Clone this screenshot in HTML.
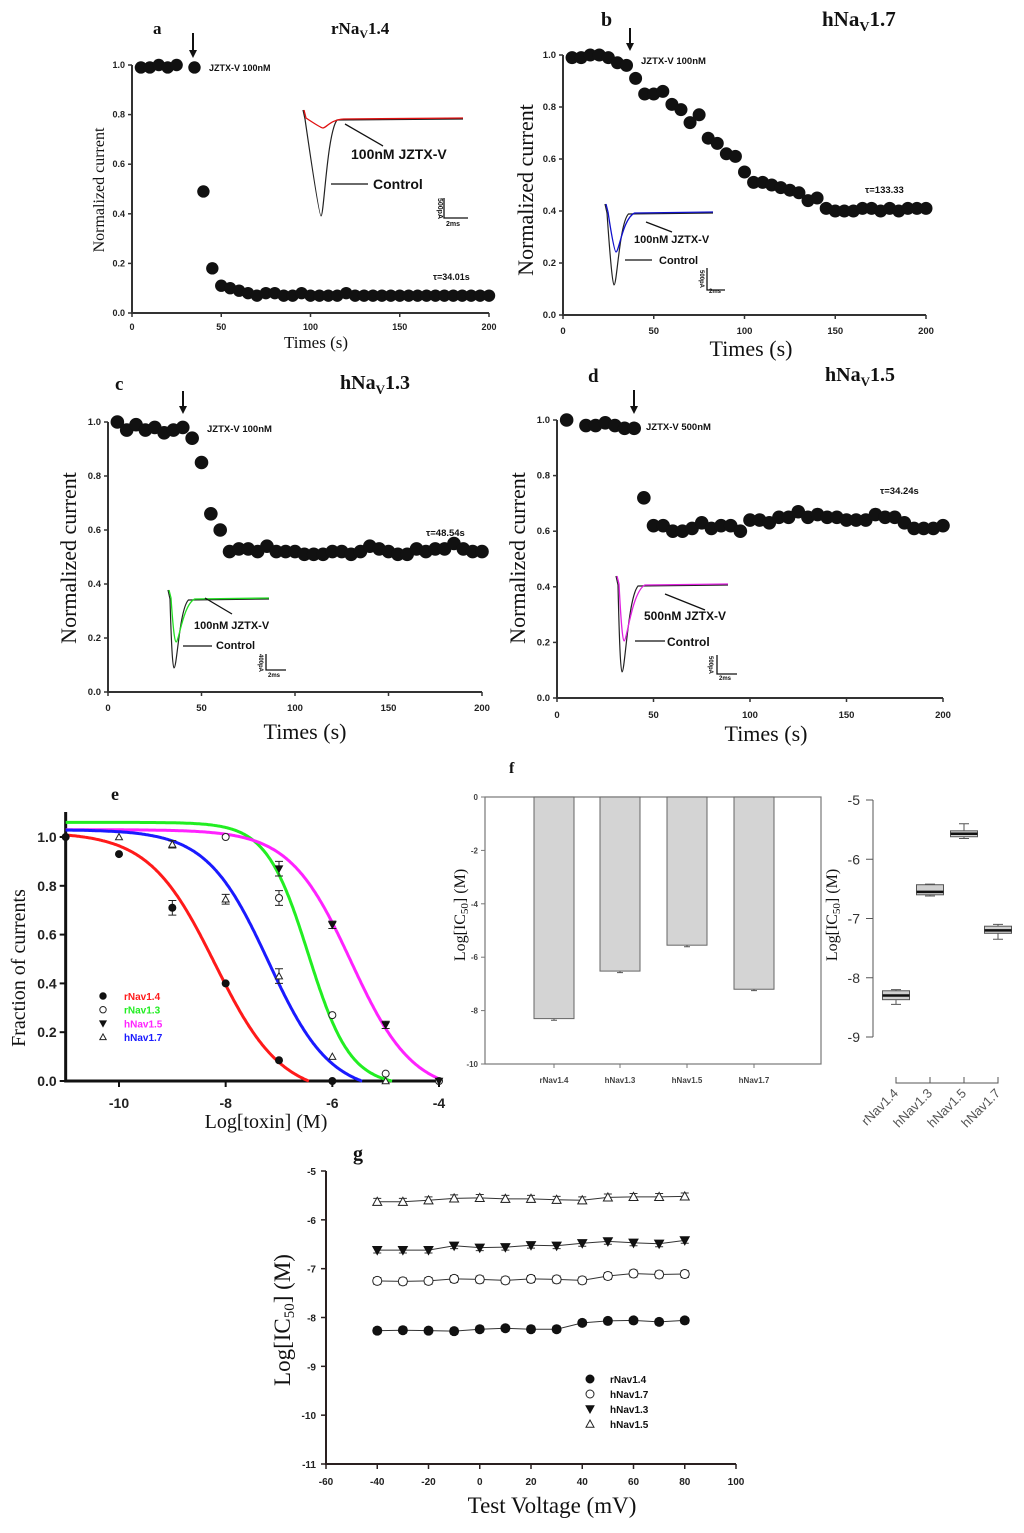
<!DOCTYPE html>
<html><head><meta charset="utf-8">
<style>
html,body{margin:0;padding:0;background:#fff;}
svg{display:block;}
.tk{font-family:"Liberation Sans",sans-serif;font-weight:bold;fill:#222;}
.sr{font-family:"Liberation Serif",serif;fill:#111;}
.sb{font-family:"Liberation Sans",sans-serif;font-weight:bold;fill:#111;}
</style></head>
<body>
<svg id="fig" width="1024" height="1533" viewBox="0 0 1024 1533" xmlns="http://www.w3.org/2000/svg">
<!-- Panel a static text -->
<text class="sr" x="153" y="34" font-size="17" font-weight="bold">a</text>
<text class="sr" x="331" y="34" font-size="17" font-weight="bold">rNa<tspan font-size="12" dy="4">V</tspan><tspan dy="-4">1.4</tspan></text>
<text class="sb" x="209" y="71" font-size="9">JZTX-V 100nM</text>
<text class="sb" x="433" y="280" font-size="9">τ=34.01s</text>
<text class="sr" x="316" y="348" font-size="17" text-anchor="middle">Times (s)</text>
<text class="sr" font-size="16" text-anchor="middle" transform="translate(104,190) rotate(-90)">Normalized current</text>
<text class="sb" x="351" y="159" font-size="14">100nM JZTX-V</text>
<text class="sb" x="373" y="189" font-size="14">Control</text>
<text class="sb" font-size="7" transform="translate(438,198) rotate(90)">500pA</text>
<text class="sb" x="446" y="226" font-size="7">2ms</text>

<!-- Panel b -->
<text class="sr" x="601" y="26" font-size="20" font-weight="bold">b</text>
<text class="sr" x="822" y="26" font-size="21" font-weight="bold">hNa<tspan font-size="14" dy="5">V</tspan><tspan dy="-5">1.7</tspan></text>
<text class="sb" x="641" y="64" font-size="9.5">JZTX-V 100nM</text>
<text class="sb" x="865" y="193" font-size="9.5">τ=133.33</text>
<text class="sr" x="751" y="356" font-size="22" text-anchor="middle">Times (s)</text>
<text class="sr" font-size="22" text-anchor="middle" transform="translate(533,190) rotate(-90)">Normalized current</text>
<text class="sb" x="634" y="243" font-size="11">100nM JZTX-V</text>
<text class="sb" x="659" y="264" font-size="11">Control</text>
<text class="sb" font-size="6" transform="translate(700,270) rotate(90)">500pA</text>
<text class="sb" x="709" y="293" font-size="6">2ms</text>

<!-- Panel c -->
<text class="sr" x="115" y="390" font-size="19" font-weight="bold">c</text>
<text class="sr" x="340" y="389" font-size="20" font-weight="bold">hNa<tspan font-size="13" dy="5">V</tspan><tspan dy="-5">1.3</tspan></text>
<text class="sb" x="207" y="432" font-size="9.5">JZTX-V 100nM</text>
<text class="sb" x="426" y="536" font-size="9.5">τ=48.54s</text>
<text class="sr" x="305" y="739" font-size="22" text-anchor="middle">Times (s)</text>
<text class="sr" font-size="22" text-anchor="middle" transform="translate(76,558) rotate(-90)">Normalized current</text>
<text class="sb" x="194" y="629" font-size="11">100nM JZTX-V</text>
<text class="sb" x="216" y="649" font-size="11">Control</text>
<text class="sb" font-size="6" transform="translate(259,654) rotate(90)">400pA</text>
<text class="sb" x="268" y="677" font-size="6">2ms</text>

<!-- Panel d -->
<text class="sr" x="588" y="382" font-size="19" font-weight="bold">d</text>
<text class="sr" x="825" y="381" font-size="20" font-weight="bold">hNa<tspan font-size="13" dy="5">V</tspan><tspan dy="-5">1.5</tspan></text>
<text class="sb" x="646" y="430" font-size="9.5">JZTX-V 500nM</text>
<text class="sb" x="880" y="494" font-size="9.5">τ=34.24s</text>
<text class="sr" x="766" y="741" font-size="22" text-anchor="middle">Times (s)</text>
<text class="sr" font-size="22" text-anchor="middle" transform="translate(525,558) rotate(-90)">Normalized current</text>
<text class="sb" x="644" y="620" font-size="12">500nM JZTX-V</text>
<text class="sb" x="667" y="646" font-size="12">Control</text>
<text class="sb" font-size="6" transform="translate(709,656) rotate(90)">500pA</text>
<text class="sb" x="719" y="680" font-size="6">2ms</text>

<!-- Panel e -->
<text class="sr" x="111" y="800" font-size="18" font-weight="bold">e</text>
<text class="sr" x="266" y="1128" font-size="20" text-anchor="middle">Log[toxin] (M)</text>
<text class="sr" font-size="20" text-anchor="middle" transform="translate(25,968) rotate(-90)">Fraction of currents</text>

<!-- Panel f -->
<text class="sr" x="509" y="773" font-size="16" font-weight="bold">f</text>
<text class="sr" font-size="16" text-anchor="middle" transform="translate(465,915) rotate(-90)">Log[IC<tspan font-size="11" dy="3">50</tspan><tspan dy="-3">] (M)</tspan></text>
<text class="sr" font-size="16" text-anchor="middle" transform="translate(837,915) rotate(-90)">Log[IC<tspan font-size="11" dy="3">50</tspan><tspan dy="-3">] (M)</tspan></text>

<!-- Panel g -->
<text class="sr" x="353" y="1160" font-size="20" font-weight="bold">g</text>
<text class="sr" x="552" y="1513" font-size="23" text-anchor="middle">Test Voltage (mV)</text>
<text class="sr" font-size="23" text-anchor="middle" transform="translate(290,1320) rotate(-90)">Log[IC<tspan font-size="15" dy="4">50</tspan><tspan dy="-4">] (M)</tspan></text>
</svg>

<script>
// ---------- DATA ----------
const timesA = [5,10,15,20,25,35,40,45,50,55,60,65,70,75,80,85,90,95,100,105,110,115,120,125,130,135,140,145,150,155,160,165,170,175,180,185,190,195,200];
const valsA  = [0.99,0.99,1.0,0.99,1.0,0.99,0.49,0.18,0.11,0.10,0.09,0.08,0.07,0.08,0.08,0.07,0.07,0.08,0.07,0.07,0.07,0.07,0.08,0.07,0.07,0.07,0.07,0.07,0.07,0.07,0.07,0.07,0.07,0.07,0.07,0.07,0.07,0.07,0.07];
const timesB = [5,10,15,20,25,30,35,40,45,50,55,60,65,70,75,80,85,90,95,100,105,110,115,120,125,130,135,140,145,150,155,160,165,170,175,180,185,190,195,200];
const valsB  = [0.99,0.99,1.0,1.0,0.99,0.97,0.96,0.91,0.85,0.85,0.86,0.81,0.79,0.74,0.77,0.68,0.66,0.62,0.61,0.55,0.51,0.51,0.50,0.49,0.48,0.47,0.44,0.45,0.41,0.40,0.40,0.40,0.41,0.41,0.40,0.41,0.40,0.41,0.41,0.41];
const timesC = [5,10,15,20,25,30,35,40,45,50,55,60,65,70,75,80,85,90,95,100,105,110,115,120,125,130,135,140,145,150,155,160,165,170,175,180,185,190,195,200];
const valsC  = [1.0,0.97,0.99,0.97,0.98,0.96,0.97,0.98,0.94,0.85,0.66,0.60,0.52,0.53,0.53,0.52,0.54,0.52,0.52,0.52,0.51,0.51,0.51,0.52,0.52,0.51,0.52,0.54,0.53,0.52,0.51,0.51,0.53,0.52,0.53,0.53,0.55,0.53,0.52,0.52];
const timesD = [5,15,20,25,30,35,40,45,50,55,60,65,70,75,80,85,90,95,100,105,110,115,120,125,130,135,140,145,150,155,160,165,170,175,180,185,190,195,200];
const valsD  = [1.0,0.98,0.98,0.99,0.98,0.97,0.97,0.72,0.62,0.62,0.60,0.60,0.61,0.63,0.61,0.62,0.62,0.60,0.64,0.64,0.63,0.65,0.65,0.67,0.65,0.66,0.65,0.65,0.64,0.64,0.64,0.66,0.65,0.65,0.63,0.61,0.61,0.61,0.62];

// panel e
const eSeries = ['rNav1.4','rNav1.3','hNav1.5','hNav1.7'];
const eColors = ['#ff1a1a','#22ee22','#ff22ff','#1a1aff'];
const eMarkers = ['fcircle','ocircle','dtri','utri'];
const eX_r14 = [-11,-10,-9,-8,-7,-6];
const eY_r14 = [1.0,0.93,0.71,0.40,0.085,0.0];
const eE_r14 = [0,0,0.03,0,0,0];
const eX_r13 = [-8,-7,-6,-5,-4];
const eY_r13 = [1.0,0.75,0.27,0.03,0.0];
const eE_r13 = [0,0.03,0,0,0];
const eX_h15 = [-7,-6,-5,-4];
const eY_h15 = [0.87,0.64,0.23,0.0];
const eE_h15 = [0.03,0.015,0.015,0];
const eX_h17 = [-10,-9,-8,-7,-6,-5];
const eY_h17 = [1.0,0.97,0.745,0.43,0.10,0.0];
const eE_h17 = [0,0.015,0.02,0.03,0,0];
// Hill fit parameters: top, bottom, logIC50, slope
const fitTop = [1.02,1.06,1.03,1.03];
const fitBottom = [-0.06,-0.02,-0.05,-0.05];
const fitIC50 = [-8.2,-6.45,-5.65,-7.2];
const fitSlope = [0.7,1.1,0.75,0.75];
const eXTicks = [-10,-8,-6,-4];
const eYTicks = [0,0.2,0.4,0.6,0.8,1.0];

// panel f
const fCats = ['rNav1.4','hNav1.3','hNav1.5','hNav1.7'];
const fBarVals = [-8.3,-6.52,-5.55,-7.2];
const fBarErr = [0.06,0.06,0.06,0.05];
const fBarTicks = [0,-2,-4,-6,-8,-10];
const boxMed = [-8.3,-6.55,-5.57,-7.2];
const boxQ1 = [-8.37,-6.6,-5.62,-7.25];
const boxQ3 = [-8.22,-6.43,-5.52,-7.13];
const boxMin = [-8.45,-6.62,-5.65,-7.35];
const boxMax = [-8.2,-6.42,-5.4,-7.1];
const boxTicks = [-5,-6,-7,-8,-9];

// panel g
const gVolt = [-40,-30,-20,-10,0,10,20,30,40,50,60,70,80];
const gNames = ['rNav1.4','hNav1.7','hNav1.3','hNav1.5'];
const gMarkers = ['fcircle','ocircle','dtri','utri'];
const g_r14 = [-8.27,-8.26,-8.27,-8.28,-8.24,-8.22,-8.24,-8.24,-8.11,-8.07,-8.06,-8.09,-8.06];
const g_h17 = [-7.25,-7.26,-7.25,-7.21,-7.22,-7.24,-7.21,-7.22,-7.24,-7.15,-7.10,-7.12,-7.11];
const g_h13 = [-6.62,-6.62,-6.62,-6.53,-6.57,-6.56,-6.52,-6.53,-6.48,-6.44,-6.47,-6.49,-6.42];
const g_h15 = [-5.63,-5.63,-5.60,-5.56,-5.55,-5.57,-5.57,-5.59,-5.60,-5.54,-5.53,-5.53,-5.52];
const gErr = [0.06,0.07,0.06,0.07];
const gXTicks = [-60,-40,-20,0,20,40,60,80,100];
const gYTicks = [-5,-6,-7,-8,-9,-10,-11];

// ---------- helpers ----------
const NS = 'http://www.w3.org/2000/svg';
const svg = document.getElementById('fig');
function mk(tag, attrs, parent){
  const el = document.createElementNS(NS, tag);
  for (const k in attrs) el.setAttribute(k, attrs[k]);
  (parent||svg).appendChild(el);
  return el;
}
function lin(d0,d1,r0,r1){ return v => r0 + (v-d0)*(r1-r0)/(d1-d0); }
function marker(type, cx, cy, r, parent){
  let el;
  if (type==='fcircle') el = mk('circle',{cx:cx,cy:cy,r:r,fill:'#111',stroke:'#111','stroke-width':1},parent);
  else if (type==='ocircle') el = mk('circle',{cx:cx,cy:cy,r:r,fill:'#fff',stroke:'#222','stroke-width':1},parent);
  else if (type==='dtri') el = mk('polygon',{points:`${cx-r},${cy-r*0.8} ${cx+r},${cy-r*0.8} ${cx},${cy+r}`,fill:'#111',stroke:'#111','stroke-width':1},parent);
  else el = mk('polygon',{points:`${cx-r},${cy+r*0.8} ${cx+r},${cy+r*0.8} ${cx},${cy-r}`,fill:'#fff',stroke:'#222','stroke-width':1},parent);
  return el;
}

// ---------- time course panels ----------
const timePanels = [
  {id:'a', x0:132, x1:489, y0:313, y1:65, t:timesA, v:valsA, r:6.2, fs:9, tickY:330, arrowX:193, arrowTop:33, arrowBot:58},
  {id:'b', x0:563, x1:926, y0:315, y1:55, t:timesB, v:valsB, r:6.5, fs:9.5, tickY:334, arrowX:630, arrowTop:28, arrowBot:51},
  {id:'c', x0:108, x1:482, y0:692, y1:422, t:timesC, v:valsC, r:6.8, fs:9.5, tickY:711, arrowX:183, arrowTop:391, arrowBot:414},
  {id:'d', x0:557, x1:943, y0:698, y1:420, t:timesD, v:valsD, r:6.8, fs:9.5, tickY:718, arrowX:634, arrowTop:390, arrowBot:414}
];
const timeXTicks = [0,50,100,150,200];
const timeYTicks = [0,0.2,0.4,0.6,0.8,1.0];
timePanels.forEach(p=>{
  const g = mk('g',{});
  
  
  const sx = lin(0,200,p.x0,p.x1), sy = lin(0,1,p.y0,p.y1);
  const ax = mk('path',{d:`M${p.x0},${sy(1)} L${p.x0},${p.y0} L${p.x1},${p.y0}`,fill:'none',stroke:'#333','stroke-width':2},g);
  
  
  timeYTicks.forEach(v=>{
    const tk = mk('line',{x1:p.x0-4,x2:p.x0,y1:sy(v),y2:sy(v),stroke:'#333','stroke-width':1.5},g);
    
    
    const tl = mk('text',{x:p.x0-7,y:sy(v)+3,'text-anchor':'end','font-size':p.fs,class:'tk'},g);
    tl.textContent = v.toFixed(1);
    
    
  });
  timeXTicks.forEach(v=>{
    const tk = mk('line',{x1:sx(v),x2:sx(v),y1:p.y0,y2:p.y0+4,stroke:'#333','stroke-width':1.5},g);
    
    
    const tl = mk('text',{x:sx(v),y:p.tickY,'text-anchor':'middle','font-size':p.fs,class:'tk'},g);
    tl.textContent = String(v);
    
    
  });
  p.t.forEach((t,i)=>{
    const c = mk('circle',{cx:sx(t),cy:sy(p.v[i]),r:p.r,fill:'#111'},g);
    
    
  });
  const ar = mk('line',{x1:p.arrowX,x2:p.arrowX,y1:p.arrowTop,y2:p.arrowBot-6,stroke:'#111','stroke-width':2},g);
  
  
  const ah = mk('polygon',{points:`${p.arrowX-4},${p.arrowBot-8} ${p.arrowX+4},${p.arrowBot-8} ${p.arrowX},${p.arrowBot}`,fill:'#111'},g);
  
  
});

// ---------- inset traces (schematic current traces, pixel drawing) ----------
function trace(x0, xEnd, base, startY, dipX, dipY, w){
  // quick drop then exponential recovery
  let d = `M${x0},${startY} L${x0+2},${base} `;
  d += `Q${dipX-2},${dipY} ${dipX},${dipY} `;
  d += `C${dipX+3},${dipY} ${dipX+w*0.6},${base+ (dipY-base)*0.15} ${dipX+w*1.6},${base+1} `;
  d += `L${xEnd},${base}`;
  return d;
}
const insets = [
  {id:'a', x0:303, xe:463, base:118, dipX:321, ctrlDip:216, drugDip:128, col:'#e01010', w:10,
   ptr:[345,124,383,146], cl:[331,184,368,184], sb:[444,198,444,218,468,218]},
  {id:'b', x0:605, xe:713, base:212, dipX:614, ctrlDip:285, drugDip:252, col:'#1010cc', w:9,
   ptr:[646,222,672,232], cl:[625,260,652,260], sb:[707,268,707,290,725,290]},
  {id:'c', x0:168, xe:269, base:598, dipX:174, ctrlDip:668, drugDip:642, col:'#22dd22', w:9,
   ptr:[205,598,232,614], cl:[183,646,212,646], sb:[266,654,266,670,286,670]},
  {id:'d', x0:616, xe:728, base:584, dipX:622, ctrlDip:672, drugDip:641, col:'#e020e0', w:10,
   ptr:[665,594,705,610], cl:[635,641,665,641], sb:[717,655,717,674,737,674]}
];
insets.forEach(s=>{
  const g = mk('g',{});
  
  
  const c = mk('path',{d:trace(s.x0,s.xe,s.base+1,s.base-8,s.dipX,s.ctrlDip,s.w),fill:'none',stroke:'#222','stroke-width':1.2},g);
  
  
  const dr = mk('path',{d:trace(s.x0+1,s.xe,s.base,s.base-8,s.dipX+2,s.drugDip,s.w*1.3),fill:'none',stroke:s.col,'stroke-width':1.3},g);
  
  
  const pl = mk('line',{x1:s.ptr[0],y1:s.ptr[1],x2:s.ptr[2],y2:s.ptr[3],stroke:'#111','stroke-width':1.3},g);
  
  
  const cl = mk('line',{x1:s.cl[0],y1:s.cl[1],x2:s.cl[2],y2:s.cl[3],stroke:'#111','stroke-width':1.3},g);
  
  
  const sb = mk('path',{d:`M${s.sb[0]},${s.sb[1]} L${s.sb[2]},${s.sb[3]} L${s.sb[4]},${s.sb[5]}`,fill:'none',stroke:'#111','stroke-width':1.3},g);
  
  
});

// ---------- panel e ----------
(function(){
  const g = mk('g',{});
  
  
  const sx = lin(-10,-4,119,439), sy = lin(0,1,1081,837);
  const ax = mk('path',{d:`M${sx(-11)},812 L${sx(-11)},${sy(0)} L${sx(-4)},${sy(0)}`,fill:'none',stroke:'#111','stroke-width':3},g);
  
  
  eYTicks.forEach(v=>{
    const tk = mk('line',{x1:sx(-11)-6,x2:sx(-11),y1:sy(v),y2:sy(v),stroke:'#111','stroke-width':2},g);
    
    
    const tl = mk('text',{x:sx(-11)-9,y:sy(v)+5,'text-anchor':'end','font-size':14,class:'tk'},g);
    tl.textContent = v.toFixed(1);
    
    
  });
  eXTicks.forEach(v=>{
    const tk = mk('line',{x1:sx(v),x2:sx(v),y1:sy(0),y2:sy(0)+6,stroke:'#111','stroke-width':2},g);
    
    
    const tl = mk('text',{x:sx(v),y:1108,'text-anchor':'middle','font-size':14,class:'tk'},g);
    tl.textContent = String(v);
    
    
  });
  // fitted curves
  for (let k=0;k<4;k++){
    let d=''; 
    for (let x=-11; x<=-4.0001; x+=0.02){
      const y = fitBottom[k] + (fitTop[k]-fitBottom[k])/(1+Math.pow(10,(x-fitIC50[k])*fitSlope[k]));
      if (y<0){ d += (d?'L':'M')+sx(x).toFixed(1)+','+sy(0).toFixed(1); break; }
      d += (d?'L':'M')+sx(x).toFixed(1)+','+sy(y).toFixed(1);
    }
    const c = mk('path',{d:d,fill:'none',stroke:eColors[k],'stroke-width':3},g);
    
    
  }
  const xs=[eX_r14,eX_r13,eX_h15,eX_h17], ys=[eY_r14,eY_r13,eY_h15,eY_h17], es=[eE_r14,eE_r13,eE_h15,eE_h17];
  for (let k=0;k<4;k++){
    xs[k].forEach((x,i)=>{
      if (es[k][i]>0){
        const e = mk('path',{d:`M${sx(x)-4},${sy(ys[k][i]+es[k][i])} H${sx(x)+4} M${sx(x)},${sy(ys[k][i]+es[k][i])} V${sy(ys[k][i]-es[k][i])} M${sx(x)-4},${sy(ys[k][i]-es[k][i])} H${sx(x)+4}`,stroke:'#222','stroke-width':1,fill:'none'},g);
        
        
      }
      const m = marker(eMarkers[k], sx(x), sy(ys[k][i]), 3.5, g);
      
      
    });
  }
  // legend
  eSeries.forEach((n,k)=>{
    const ly = 999 + k*13.7;
    const m = marker(eMarkers[k], 103, ly-3, 3.2, g);
    
    
    const t = mk('text',{x:124,y:ly+1,'font-size':10,class:'sb',style:'fill:'+eColors[k]},g);
    t.textContent = n;
    
    
  });
})();

// ---------- panel f bars ----------
(function(){
  const g = mk('g',{});
  
  
  const sy = lin(0,-10,797,1064);
  const centers = [554,620,687,754], bw = 40;
  const fr = mk('rect',{x:485,y:797,width:336,height:267,fill:'none',stroke:'#777','stroke-width':1.2},g);
  
  
  fBarTicks.forEach(v=>{
    const tk = mk('line',{x1:481,x2:485,y1:sy(v),y2:sy(v),stroke:'#777'},g);
    
    
    const tl = mk('text',{x:478,y:sy(v)+3,'text-anchor':'end','font-size':8,class:'tk',style:'fill:#444'},g);
    tl.textContent = String(v);
    
    
  });
  fCats.forEach((c,i)=>{
    const b = mk('rect',{x:centers[i]-bw/2,y:sy(0),width:bw,height:sy(fBarVals[i])-sy(0),fill:'#d4d4d4',stroke:'#666','stroke-width':1},g);
    
    
    const e = mk('path',{d:`M${centers[i]},${sy(fBarVals[i])} V${sy(fBarVals[i]-fBarErr[i])} M${centers[i]-3},${sy(fBarVals[i]-fBarErr[i])} H${centers[i]+3}`,stroke:'#555',fill:'none'},g);
    
    
    const tk = mk('line',{x1:centers[i],x2:centers[i],y1:1064,y2:1068,stroke:'#777'},g);
    
    
    const tl = mk('text',{x:centers[i],y:1083,'text-anchor':'middle','font-size':8,class:'tk',style:'fill:#444'},g);
    tl.textContent = c;
    
    
  });
})();

// ---------- panel f box plot ----------
(function(){
  const g = mk('g',{});
  
  
  const sy = lin(-5,-9,800,1037);
  const centers = [896,930,964,998], bw = 27;
  const ax = mk('line',{x1:873,x2:873,y1:sy(-5),y2:sy(-9),stroke:'#555','stroke-width':1},g);
  
  
  boxTicks.forEach(v=>{
    const tk = mk('line',{x1:866,x2:873,y1:sy(v),y2:sy(v),stroke:'#555'},g);
    
    
    const tl = mk('text',{x:860,y:sy(v)+5,'text-anchor':'end','font-size':14,style:'font-family:"Liberation Sans",sans-serif;fill:#333'},g);
    tl.textContent = String(v);
    
    
  });
  const xa = mk('path',{d:`M${centers[0]},1077 V1083 H${centers[3]} V1077 M${centers[1]},1083 V1077 M${centers[2]},1083 V1077`,fill:'none',stroke:'#555'},g);
  
  
  fCats.forEach((c,i)=>{
    const cx = centers[i];
    const w = mk('path',{d:`M${cx},${sy(boxMax[i])} V${sy(boxMin[i])} M${cx-5},${sy(boxMax[i])} H${cx+5} M${cx-5},${sy(boxMin[i])} H${cx+5}`,stroke:'#555',fill:'none'},g);
    
    
    const b = mk('rect',{x:cx-bw/2,y:sy(boxQ3[i]),width:bw,height:sy(boxQ1[i])-sy(boxQ3[i]),fill:'#d0d0d0',stroke:'#555'},g);
    
    
    const m = mk('line',{x1:cx-bw/2,x2:cx+bw/2,y1:sy(boxMed[i]),y2:sy(boxMed[i]),stroke:'#111','stroke-width':2.5},g);
    
    
    const tl = mk('text',{x:0,y:0,'text-anchor':'end','font-size':13,transform:`translate(${cx+3},1094) rotate(-45)`,style:'font-family:"Liberation Sans",sans-serif;fill:#555'},g);
    tl.textContent = c;
    
    
  });
})();

// ---------- panel g ----------
(function(){
  const g = mk('g',{});
  
  
  const sx = lin(-60,100,326,736), sy = lin(-5,-11,1171,1464);
  const ax = mk('path',{d:`M326,${sy(-5)} L326,${sy(-11)} L736,${sy(-11)}`,fill:'none',stroke:'#2a2020','stroke-width':2},g);
  
  
  gYTicks.forEach(v=>{
    const tk = mk('line',{x1:321,x2:326,y1:sy(v),y2:sy(v),stroke:'#2a2020','stroke-width':1.5},g);
    
    
    const tl = mk('text',{x:316,y:sy(v)+4,'text-anchor':'end','font-size':10,class:'tk'},g);
    tl.textContent = String(v);
    
    
  });
  gXTicks.forEach(v=>{
    const tk = mk('line',{x1:sx(v),x2:sx(v),y1:sy(-11),y2:sy(-11)+5,stroke:'#2a2020','stroke-width':1.5},g);
    
    
    const tl = mk('text',{x:sx(v),y:1485,'text-anchor':'middle','font-size':10,class:'tk'},g);
    tl.textContent = String(v);
    
    
  });
  const series = [g_r14,g_h17,g_h13,g_h15];
  series.forEach((vals,k)=>{
    const pts = gVolt.map((v,i)=>sx(v)+','+sy(vals[i])).join(' ');
    const l = mk('polyline',{points:pts,fill:'none',stroke:'#333','stroke-width':1},g);
    
    
    gVolt.forEach((v,i)=>{
      const x=sx(v), yt=sy(vals[i]+gErr[k]), yb=sy(vals[i]-gErr[k]);
      const e = mk('path',{d:`M${x-4},${yt} H${x+4} M${x},${yt} V${yb} M${x-4},${yb} H${x+4}`,stroke:'#333',fill:'none','stroke-width':1},g);
      
      
      const m = marker(gMarkers[k], x, sy(vals[i]), 4.5, g);
      
      
    });
  });
  gNames.forEach((n,k)=>{
    const ly = 1382 + k*15;
    const m = marker(gMarkers[k], 590, ly-3, 4, g);
    
    
    const t = mk('text',{x:610,y:ly+1,'font-size':10,class:'sb'},g);
    t.textContent = n;
    
    
  });
})();
</script>
</body></html>
